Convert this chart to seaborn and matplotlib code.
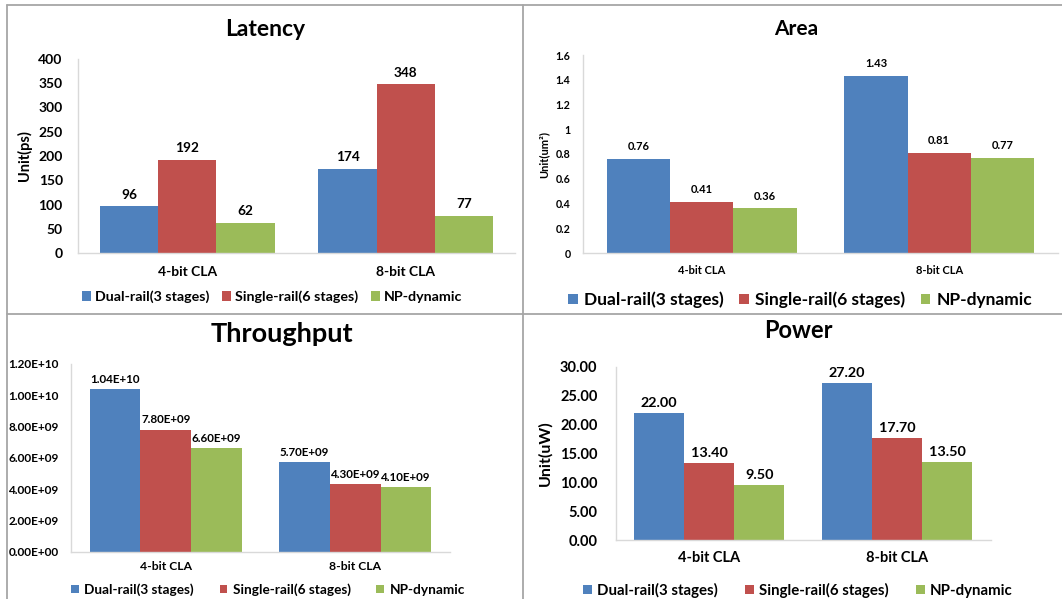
import matplotlib
matplotlib.use('Agg')
import matplotlib.pyplot as plt
import seaborn as sns
import pandas as pd
from matplotlib.lines import Line2D
from matplotlib.ticker import FuncFormatter

categories = ['4-bit CLA', '8-bit CLA']
series = ['Dual-rail(3 stages)', 'Single-rail(6 stages)', 'NP-dynamic']
colors = ['#4F81BD', '#C0504D', '#9BBB59']

latency_dual = [96, 174]
latency_single = [192, 348]
latency_np = [62, 77]

area_dual = [0.76, 1.43]
area_single = [0.41, 0.81]
area_np = [0.36, 0.77]

throughput_dual = [1.04e10, 5.7e9]
throughput_single = [7.8e9, 4.3e9]
throughput_np = [6.6e9, 4.1e9]

power_dual = [22.0, 27.2]
power_single = [13.4, 17.7]
power_np = [9.5, 13.5]

sns.set_theme(style='white')
plt.rcParams['font.family'] = ['Lato', 'DejaVu Sans']
plt.rcParams['font.weight'] = 'bold'
for k in ['text.color', 'axes.labelcolor', 'xtick.color', 'ytick.color']:
    plt.rcParams[k] = 'black'

W, H = 1062, 599
fig = plt.figure(figsize=(W / 100, H / 100), dpi=100)


def px_axes(l, t, r, b):
    return fig.add_axes([l / W, 1 - b / H, (r - l) / W, (b - t) / H])


def make_df(dual, single, np_):
    rows = []
    for name, vals in zip(series, [dual, single, np_]):
        for c, v in zip(categories, vals):
            rows.append({'CLA': c, 'Design': name, 'Value': v})
    return pd.DataFrame(rows)


def draw(box, df, title, title_size, title_xy, ymax, ystep, tick_fmt, tick_size, tick_pad,
         label_fmt, label_size, label_pad, cat_size, cat_pad, legend_xy, legend_size,
         handle, textpad, colspace, ylabel=None, ylabel_size=10, ylabel_x=20):
    l, t, r, b = box
    ax = px_axes(l, t, r, b)
    sns.barplot(data=df, x='CLA', y='Value', hue='Design', palette=colors,
                saturation=1, width=0.8, linewidth=0, ax=ax)
    ax.set_ylim(0, ymax)
    n = int(round(ymax / ystep))
    ax.set_yticks([i * ystep for i in range(n + 1)])
    ax.yaxis.set_major_formatter(FuncFormatter(lambda v, p: tick_fmt(v)))
    ax.tick_params(axis='y', length=0, pad=tick_pad, labelsize=tick_size)
    ax.tick_params(axis='x', length=0, pad=cat_pad, labelsize=cat_size)
    for cont in ax.containers:
        ax.bar_label(cont, labels=[label_fmt(v) for v in cont.datavalues],
                     padding=label_pad, fontsize=label_size, fontweight='bold')
    sns.despine(ax=ax)
    for s in ['left', 'bottom']:
        ax.spines[s].set_color('#D9D9D9')
        ax.spines[s].set_linewidth(1)
    ax.set_xlabel('')
    if ylabel:
        ax.set_ylabel(ylabel, fontsize=ylabel_size, fontweight='bold')
        ax.yaxis.label.set_va('center')
        ax.yaxis.set_label_coords((ylabel_x - l) / (r - l), 0.5)
    else:
        ax.set_ylabel('')
    tx, ty = title_xy
    ax.set_title(title, fontsize=title_size, fontweight='bold', pad=0,
                 x=(tx - l) / (r - l), y=(b - ty) / (b - t), va='center')
    lx, ly = legend_xy
    sns.move_legend(ax, 'center', bbox_to_anchor=(lx / W, 1 - ly / H),
                    bbox_transform=fig.transFigure, ncol=3, title=None, frameon=False,
                    fontsize=legend_size, handlelength=handle, handleheight=handle,
                    handletextpad=textpad, columnspacing=colspace)
    return ax


draw((78, 59, 515, 253), make_df(latency_dual, latency_single, latency_np),
     'Latency', 16.5, (265, 29), 400, 50, lambda v: f'{v:.0f}', 10, 11,
     lambda v: f'{v:.0f}', 9.8, 4, 10, 9, (272, 297), 10.3,
     0.65, 0.3, 0.85, ylabel='Unit(ps)', ylabel_size=10.5, ylabel_x=24)

draw((583, 55, 1058, 253), make_df(area_dual, area_single, area_np),
     'Area', 15, (796, 29), 1.6, 0.2, lambda v: f'{round(v, 1):g}', 7.7, 9,
     lambda v: f'{v:.2f}', 8, 5, 8, 9, (800, 300), 12.5,
     0.55, 0.35, 0.9, ylabel='Unit(um²)', ylabel_size=8, ylabel_x=544)

draw((71, 364, 450, 551.5), make_df(throughput_dual, throughput_single, throughput_np),
     'Throughput', 19.5, (282, 334), 1.2e10, 2e9, lambda v: f'{v:.2E}', 8.5, 9,
     lambda v: f'{v:.2E}', 8.4, 3, 8.7, 7, (268, 590), 9.8,
     0.55, 0.4, 1.9)

draw((615.5, 367, 991, 540), make_df(power_dual, power_single, power_np),
     'Power', 17, (798, 330), 30, 5, lambda v: f'{v:.2f}', 10.5, 13,
     lambda v: f'{v:.2f}', 10.4, 3, 10.5, 8, (798, 590), 10.8,
     0.55, 0.35, 1.85, ylabel='Unit(uW)', ylabel_size=11.5, ylabel_x=545)

grey = '#A6A6A6'
for (x1, y1, x2, y2) in [(7, 5, W, 5), (7, 5, 7, H), (523, 5, 523, H), (7, 314, W, 314)]:
    fig.add_artist(Line2D([x1 / W, x2 / W], [1 - y1 / H, 1 - y2 / H],
                          transform=fig.transFigure, color=grey, lw=1.3))

fig.savefig('out.png', dpi=100)
